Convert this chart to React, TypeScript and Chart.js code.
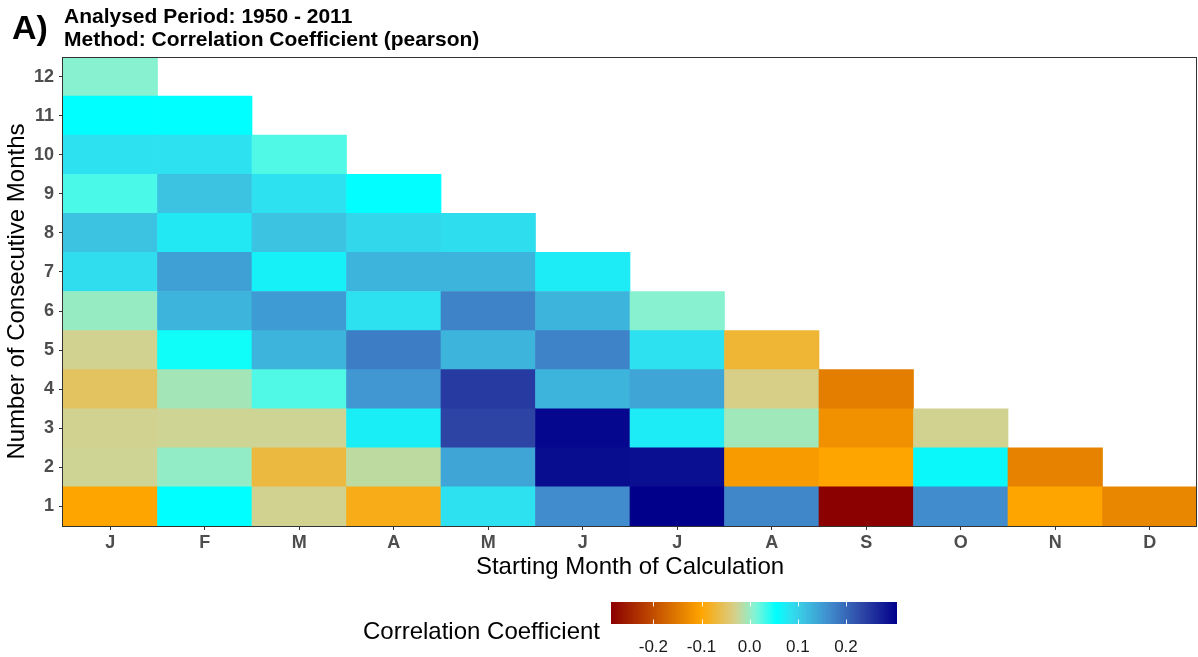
import React, { useEffect, useRef } from "react";
import { Chart, registerables } from "chart.js";

Chart.register(...registerables);

// Starting month of calculation (x axis)
const months = ["J", "F", "M", "A", "M", "J", "J", "A", "S", "O", "N", "D"];
// Number of consecutive months (y axis)
const rowTicks = [1, 2, 3, 4, 5, 6, 7, 8, 9, 10, 11, 12];

// Correlation coefficients per starting month; index 0 = 1 consecutive month
const janValues = [-0.1, -0.026, -0.028, -0.052, -0.028, 0.001, 0.088, 0.112, 0.03, 0.084, 0.055, 0.008];
const febValues = [0.055, 0.003, -0.026, -0.006, 0.05, 0.127, 0.146, 0.077, 0.112, 0.084, 0.055];
const marValues = [-0.028, -0.068, -0.026, 0.028, 0.127, 0.151, 0.069, 0.112, 0.084, 0.028];
const aprValues = [-0.088, -0.018, 0.071, 0.155, 0.18, 0.084, 0.127, 0.093, 0.056];
const mayValues = [0.084, 0.141, 0.236, 0.246, 0.127, 0.175, 0.127, 0.087];
const junValues = [0.165, 0.294, 0.298, 0.127, 0.175, 0.127, 0.074];
const julValues = [0.306, 0.291, 0.074, 0.141, 0.084, 0.008];
const augValues = [0.17, -0.111, -0.004, -0.032, -0.073];
const sepValues = [-0.288, -0.1, -0.123, -0.145];
const octValues = [0.165, 0.062, -0.028];
const novValues = [-0.1, -0.14];
const decValues = [-0.134];

const valuesByMonth = [
  janValues, febValues, marValues, aprValues, mayValues, junValues,
  julValues, augValues, sepValues, octValues, novValues, decValues,
];

// Colour bar tick values / labels
const legendTicks = [-0.2, -0.1, 0.0, 0.1, 0.2];
const legendTickLabels = ["-0.2", "-0.1", "0.0", "0.1", "0.2"];

// Diverging colour scale (value -> rgb)
const colourStops: [number, [number, number, number]][] = [
  [-0.288, [139, 0, 0]],
  [-0.1, [255, 165, 0]],
  [-0.03, [214, 208, 140]],
  [0.012, [127, 245, 215]],
  [0.055, [0, 255, 255]],
  [0.084, [45, 225, 240]],
  [0.112, [60, 195, 225]],
  [0.127, [60, 180, 220]],
  [0.165, [65, 140, 205]],
  [0.236, [45, 68, 165]],
  [0.306, [0, 0, 139]],
];

function colourFor(v: number): string {
  if (v <= colourStops[0][0]) {
    const c = colourStops[0][1];
    return `rgb(${c[0]},${c[1]},${c[2]})`;
  }
  for (let i = 1; i < colourStops.length; i++) {
    const [v1, c1] = colourStops[i];
    const [v0, c0] = colourStops[i - 1];
    if (v <= v1) {
      const t = (v - v0) / (v1 - v0);
      const r = Math.round(c0[0] + (c1[0] - c0[0]) * t);
      const g = Math.round(c0[1] + (c1[1] - c0[1]) * t);
      const b = Math.round(c0[2] + (c1[2] - c0[2]) * t);
      return `rgb(${r},${g},${b})`;
    }
  }
  const c = colourStops[colourStops.length - 1][1];
  return `rgb(${c[0]},${c[1]},${c[2]})`;
}

const FONT = "'Liberation Sans', Arial, Helvetica, sans-serif";

export default function App() {
  const canvasRef = useRef<HTMLCanvasElement | null>(null);

  useEffect(() => {
    const canvas = canvasRef.current;
    if (!canvas) return;

    const allValues = valuesByMonth.flat();
    const vMin = Math.min(...allValues);
    const vMax = Math.max(...allValues);

    const datasets = rowTicks.map((r) => ({
      label: `${r}`,
      data: months.map((_, i) =>
        valuesByMonth[i][r - 1] !== undefined ? [r - 0.5, r + 0.5] : null
      ),
      backgroundColor: months.map((_, i) =>
        valuesByMonth[i][r - 1] !== undefined ? colourFor(valuesByMonth[i][r - 1]) : "rgba(0,0,0,0)"
      ),
      borderWidth: 0,
      barPercentage: 1,
      categoryPercentage: 1,
      grouped: false,
    }));

    const decorPlugin = {
      id: "decor",
      afterDraw(chart: any) {
        const ctx = chart.ctx as CanvasRenderingContext2D;
        const a = chart.chartArea;
        ctx.save();
        // panel border
        ctx.strokeStyle = "#333333";
        ctx.lineWidth = 1;
        ctx.strokeRect(Math.round(a.left) - 0.5, Math.round(a.top) + 0.5, Math.round(a.right - a.left), Math.round(a.bottom - a.top));

        // titles
        ctx.fillStyle = "#000000";
        ctx.textAlign = "left";
        ctx.textBaseline = "alphabetic";
        ctx.font = `bold 34px ${FONT}`;
        ctx.fillText("A)", 12, 39);
        ctx.font = `bold 21px ${FONT}`;
        ctx.fillText("Analysed Period: 1950 - 2011", 64, 23);
        ctx.fillText("Method: Correlation Coefficient (pearson)", 64, 46);

        // colour bar legend
        const bx0 = 611, bx1 = 897, by0 = 602, by1 = 624;
        const toX = (v: number) => bx0 + ((v - vMin) / (vMax - vMin)) * (bx1 - bx0);
        for (let x = bx0; x < bx1; x++) {
          const v = vMin + ((x + 0.5 - bx0) / (bx1 - bx0)) * (vMax - vMin);
          ctx.fillStyle = colourFor(v);
          ctx.fillRect(x, by0, 1, by1 - by0);
        }
        ctx.strokeStyle = "rgba(255,255,255,0.9)";
        ctx.lineWidth = 1;
        legendTicks.forEach((t) => {
          const x = Math.round(toX(t)) + 0.5;
          ctx.beginPath();
          ctx.moveTo(x, by0);
          ctx.lineTo(x, by0 + 4.5);
          ctx.moveTo(x, by1 - 4.5);
          ctx.lineTo(x, by1);
          ctx.stroke();
        });
        ctx.fillStyle = "#1a1a1a";
        ctx.font = `17px ${FONT}`;
        ctx.textAlign = "center";
        legendTicks.forEach((t, i) => {
          ctx.fillText(legendTickLabels[i], toX(t), 652);
        });
        ctx.fillStyle = "#000000";
        ctx.font = `24px ${FONT}`;
        ctx.textAlign = "right";
        ctx.fillText("Correlation Coefficient", 600, 639);
        ctx.restore();
      },
    };

    const chart = new Chart(canvas, {
      type: "bar",
      data: { labels: months, datasets: datasets as any },
      options: {
        responsive: false,
        maintainAspectRatio: false,
        animation: false,
        devicePixelRatio: 1,
        layout: { padding: { left: 0, top: 57, right: 1, bottom: 71 } },
        plugins: {
          legend: { display: false },
          tooltip: { enabled: false },
          title: { display: false },
        },
        scales: {
          x: {
            type: "category",
            offset: true,
            grid: {
              offset: false,
              drawOnChartArea: false,
              drawTicks: true,
              tickLength: 4,
              color: "#333333",
            },
            border: { display: false },
            ticks: {
              color: "#4D4D4D",
              font: { family: FONT, size: 18, weight: "bold" },
              padding: 2,
              maxRotation: 0,
              autoSkip: false,
            },
            title: {
              display: true,
              text: "Starting Month of Calculation",
              color: "#000000",
              font: { family: FONT, size: 24 },
              padding: { top: 0, bottom: 4 },
            },
            afterFit: (axis: any) => {
              axis.height = 60;
            },
          },
          y: {
            type: "linear",
            min: 0.5,
            max: 12.5,
            afterBuildTicks: (axis: any) => {
              axis.ticks = rowTicks.map((v) => ({ value: v }));
            },
            grid: {
              drawOnChartArea: false,
              drawTicks: true,
              tickLength: 4,
              color: "#333333",
            },
            border: { display: false },
            ticks: {
              color: "#4D4D4D",
              font: { family: FONT, size: 18, weight: "bold" },
              padding: 5,
              autoSkip: false,
              callback: (v: any) => String(v),
            },
            title: {
              display: true,
              text: "Number of Consecutive Months",
              color: "#000000",
              font: { family: FONT, size: 24 },
              padding: { top: 3, bottom: 0 },
            },
            afterFit: (axis: any) => {
              axis.width = 63;
            },
          },
        },
      } as any,
      plugins: [decorPlugin],
    });

    return () => {
      chart.destroy();
    };
  }, []);

  return (
    <div style={{ position: "fixed", left: 0, top: 0, width: 1198, height: 657, background: "#ffffff" }}>
      <canvas ref={canvasRef} width={1198} height={657} style={{ display: "block", width: 1198, height: 657 }} />
    </div>
  );
}
